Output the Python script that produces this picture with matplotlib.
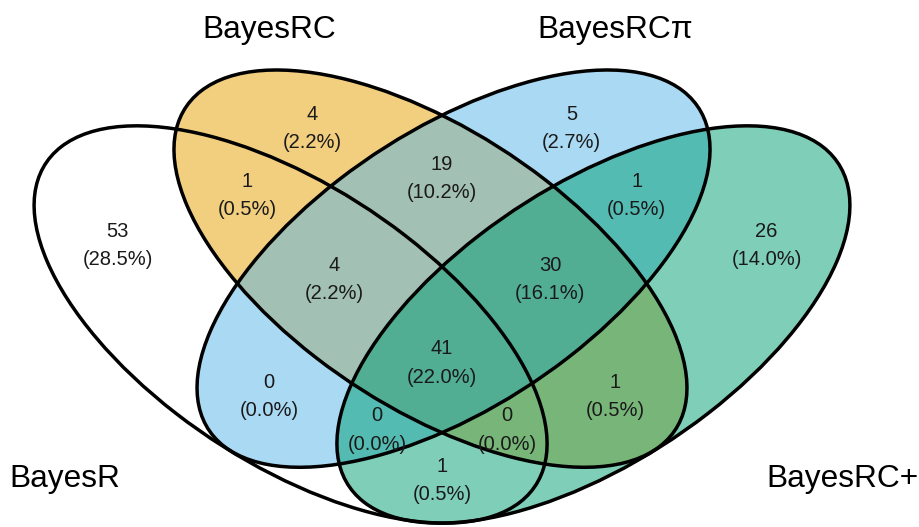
import matplotlib
matplotlib.use("Agg")
import matplotlib.pyplot as plt
from matplotlib.patches import Ellipse

plt.rcParams['font.family'] = ['Liberation Sans', 'DejaVu Sans']

# set names and fills (fill drawn at alpha 0.5)
set_names = ['BayesR', 'BayesRC', 'BayesRCπ', 'BayesRC+']
set_colors = ['#FFFFFF', '#E69F00', '#56B4E9', '#009E73']

# region counts (A=BayesR, B=BayesRC, C=BayesRCπ, D=BayesRC+)
regions = ['A', 'B', 'C', 'D', 'AB', 'BC', 'CD', 'AC', 'BD',
           'ABC', 'BCD', 'ACD', 'ABD', 'AD', 'ABCD']
counts = [53, 4, 5, 26, 1, 19, 1, 0, 1, 4, 30, 0, 0, 1, 41]

# 4-ellipse layout (centre x, centre y, angle)
ell_x = [-0.7, -0.72 + 2 / 3, 0.72 - 2 / 3, 0.7]
ell_y = [-0.5, -1 / 6, -1 / 6, -0.5]
ell_ang = [45, 45, -45, -45]

# where each region label goes
text_pos = {
    'A': (-1.5, 0), 'B': (-0.6, 0.7), 'C': (0.6, 0.7), 'D': (1.5, 0),
    'AB': (-0.9, 0.3), 'BC': (0, 0.4), 'CD': (0.9, 0.3),
    'AC': (-0.8, -0.9), 'BD': (0.8, -0.9),
    'ABC': (-0.5, -0.2), 'BCD': (0.5, -0.2),
    'ACD': (-0.3, -1.1), 'ABD': (0.3, -1.1),
    'AD': (0, -1.4), 'ABCD': (0, -0.7),
}
label_pos = [(-1.487, -1.335, 'right', 'top'), (-0.8, 1.17, 'center', 'bottom'),
             (0.8, 1.17, 'center', 'bottom'), (1.5, -1.335, 'left', 'top')]

fig = plt.figure(figsize=(9.19, 5.27), dpi=100)
ax = fig.add_axes([0, 0, 1, 1])
ax.set_xlim(-2.0435, 2.2053)
ax.set_ylim(-1.709, 1.437)
ax.axis('off')

for x, y, ang, col in zip(ell_x, ell_y, ell_ang, set_colors):
    ax.add_patch(Ellipse((x, y), 1.5, 3.0, angle=ang, facecolor=col,
                         alpha=0.5, edgecolor='none'))
for x, y, ang in zip(ell_x, ell_y, ell_ang):
    ax.add_patch(Ellipse((x, y), 1.5, 3.0, angle=ang, facecolor='none',
                         edgecolor='black', linewidth=2.5))

total = sum(counts)
for r, n in zip(regions, counts):
    tx, ty = text_pos[r]
    ax.text(tx, ty - 0.03, '%d\n(%.1f%%)' % (n, 100 * n / total),
            ha='center', va='center', fontsize=14.5, linespacing=1.62,
            color='#1a1a1a')

for name, (lx, ly, ha, va) in zip(set_names, label_pos):
    ax.text(lx, ly, name, ha=ha, va=va, fontsize=22.8)

fig.savefig('out.png', dpi=100)
